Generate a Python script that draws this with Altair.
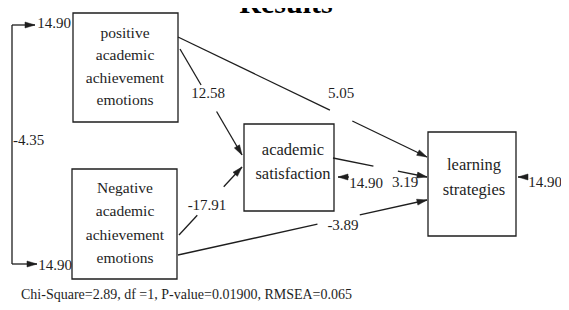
import math
import altair as alt
import pandas as pd

# ---------------- data ----------------
title_text = "Results"
fit_text = "Chi-Square=2.89, df =1, P-value=0.01900, RMSEA=0.065"

node_ids = ["pos", "neg", "sat", "learn"]
node_lines = [
    ["positive", "academic", "achievement", "emotions"],
    ["Negative", "academic", "achievement", "emotions"],
    ["academic", "satisfaction"],
    ["learning", "strategies"],
]
# layout of the boxes (page pixels)
box_left = [73, 72, 244, 428]
box_right = [178, 177, 334, 516]
box_top = [13, 169, 124, 132]
box_bottom = [122, 279, 211, 236]
text_cx = [125, 125, 293, 474]
text_first_y = [33, 188, 150, 165]
text_step = [22.3, 23.3, 24, 25]
text_size = [15.5, 15.5, 16.5, 16.5]

# structural paths
path_from = ["pos", "pos", "neg", "neg", "sat"]
path_to = ["sat", "learn", "sat", "learn", "learn"]
path_coef = ["12.58", "5.05", "-17.91", "-3.89", "3.19"]
path_start = [(180, 49), (178, 37), (179, 235), (178, 255), (333, 158)]
path_end = [(242, 155), (427, 157), (242, 167), (427, 200), (427, 177)]
path_gap = [(0.34, 0.59), (0.61, 0.70), (0.29, 0.71), (0.56, 0.73), (0.43, 0.69)]
path_label_pos = [(208, 93), (341, 93), (207, 205), (343, 225), (405, 182)]

# error variances
err_nodes = ["pos", "neg", "sat", "learn"]
err_value = ["14.90", "14.90", "14.90", "14.90"]
err_label_pos = [(54, 23), (55, 265), (366, 183), (545, 182)]
err_tail = [(12, 25), (12, 264), (349, 177), (528, 177)]
err_tip = [(35, 25), (37, 264), (338, 177), (518, 177)]

# correlation between the two exogenous variables
corr_value = "-4.35"
corr_line_x = 12
corr_label_pos = (13, 140)

# ---------------- frames ----------------
FONT = "Liberation Serif, Times New Roman, Times, serif"
INK = "#1e1e1e"

boxes = pd.DataFrame({"id": node_ids, "l": box_left, "r": box_right,
                      "t": box_top, "b": box_bottom})

rows = []
for i, lines in enumerate(node_lines):
    for k, s in enumerate(lines):
        rows.append({"x": text_cx[i], "y": text_first_y[i] + k * text_step[i],
                     "txt": s, "fs": text_size[i]})
node_text = pd.DataFrame(rows)

seg = []
heads = []
for (x0, y0), (x1, y1), (g0, g1) in zip(path_start, path_end, path_gap):
    dx, dy = x1 - x0, y1 - y0
    seg.append({"x": x0, "y": y0, "x2": x0 + dx * g0, "y2": y0 + dy * g0})
    seg.append({"x": x0 + dx * g1, "y": y0 + dy * g1, "x2": x1, "y2": y1})
    heads.append(((x0, y0), (x1, y1)))
for (tx, ty), (hx, hy) in zip(err_tail, err_tip):
    seg.append({"x": tx, "y": ty, "x2": hx, "y2": hy})
    heads.append(((tx, ty), (hx, hy)))
seg.append({"x": corr_line_x, "y": err_tail[0][1], "x2": corr_line_x, "y2": err_tail[1][1]})
segments = pd.DataFrame(seg)

HL = 5.0
hrows = []
for (x0, y0), (x1, y1) in heads:
    dx, dy = x1 - x0, y1 - y0
    n = math.hypot(dx, dy)
    ux, uy = dx / n, dy / n
    ang = math.degrees(math.atan2(dy, dx)) % 360
    hrows.append({"x": x1 - ux * HL, "y": y1 - uy * HL, "angle": ang})
arrowheads = pd.DataFrame(hrows)

labels = pd.DataFrame(
    [{"x": p[0], "y": p[1], "txt": c} for p, c in zip(path_label_pos, path_coef)]
    + [{"x": p[0], "y": p[1], "txt": v} for p, v in zip(err_label_pos, err_value)]
)
corr_df = pd.DataFrame([{"x": corr_label_pos[0], "y": corr_label_pos[1], "txt": corr_value}])
title_df = pd.DataFrame([{"x": 286, "y": 13, "txt": title_text}])
fit_df = pd.DataFrame([{"x": 21, "y": 299, "txt": fit_text}])

# ---------------- scales ----------------
xs = alt.Scale(domain=[8, 561], nice=False, zero=False)
ys = alt.Scale(domain=[8, 302], nice=False, zero=False, reverse=True)
X = lambda f="x": alt.X(f"{f}:Q", scale=xs, axis=None)
Y = lambda f="y": alt.Y(f"{f}:Q", scale=ys, axis=None)

rects = alt.Chart(boxes).mark_rect(filled=False, stroke=INK, strokeWidth=1.3).encode(
    x=X("l"), x2="r", y=Y("t"), y2="b")

texts = alt.Chart(node_text).mark_text(font=FONT, color=INK, align="center",
                                       baseline="middle").encode(
    x=X(), y=Y(), text="txt:N", size=alt.Size("fs:Q", scale=None))

rules = alt.Chart(segments).mark_rule(stroke=INK, strokeWidth=1.3).encode(
    x=X(), y=Y(), x2="x2:Q", y2="y2:Q")

heads_ch = alt.Chart(arrowheads).mark_point(
    shape="M-1,-0.6L1,0L-1,0.6Z", filled=True, fill=INK, stroke=INK,
    strokeWidth=0.5, size=100, opacity=1).encode(
    x=X(), y=Y(), angle=alt.Angle("angle:Q", scale=None))

lab_ch = alt.Chart(labels).mark_text(font=FONT, fontSize=15, color=INK,
                                     align="center", baseline="middle").encode(
    x=X(), y=Y(), text="txt:N")

corr_ch = alt.Chart(corr_df).mark_text(font=FONT, fontSize=15, color=INK,
                                       align="left", baseline="middle").encode(
    x=X(), y=Y(), text="txt:N")

title_ch = alt.Chart(title_df).mark_text(font=FONT, fontSize=30, fontWeight="bold",
                                         color="#000", align="center",
                                         baseline="alphabetic").encode(
    x=X(), y=Y(), text="txt:N")

fit_ch = alt.Chart(fit_df).mark_text(font=FONT, fontSize=14, color=INK,
                                     align="left", baseline="alphabetic").encode(
    x=X(), y=Y(), text="txt:N")

chart = alt.layer(rects, rules, heads_ch, texts, lab_ch, corr_ch, title_ch, fit_ch).properties(
    width=553, height=294, padding=0, background="white",
    autosize=alt.AutoSizeParams(type="none"),
).configure_view(stroke=None)

chart.save("out.html", embed_options={"renderer": "svg", "actions": False})
